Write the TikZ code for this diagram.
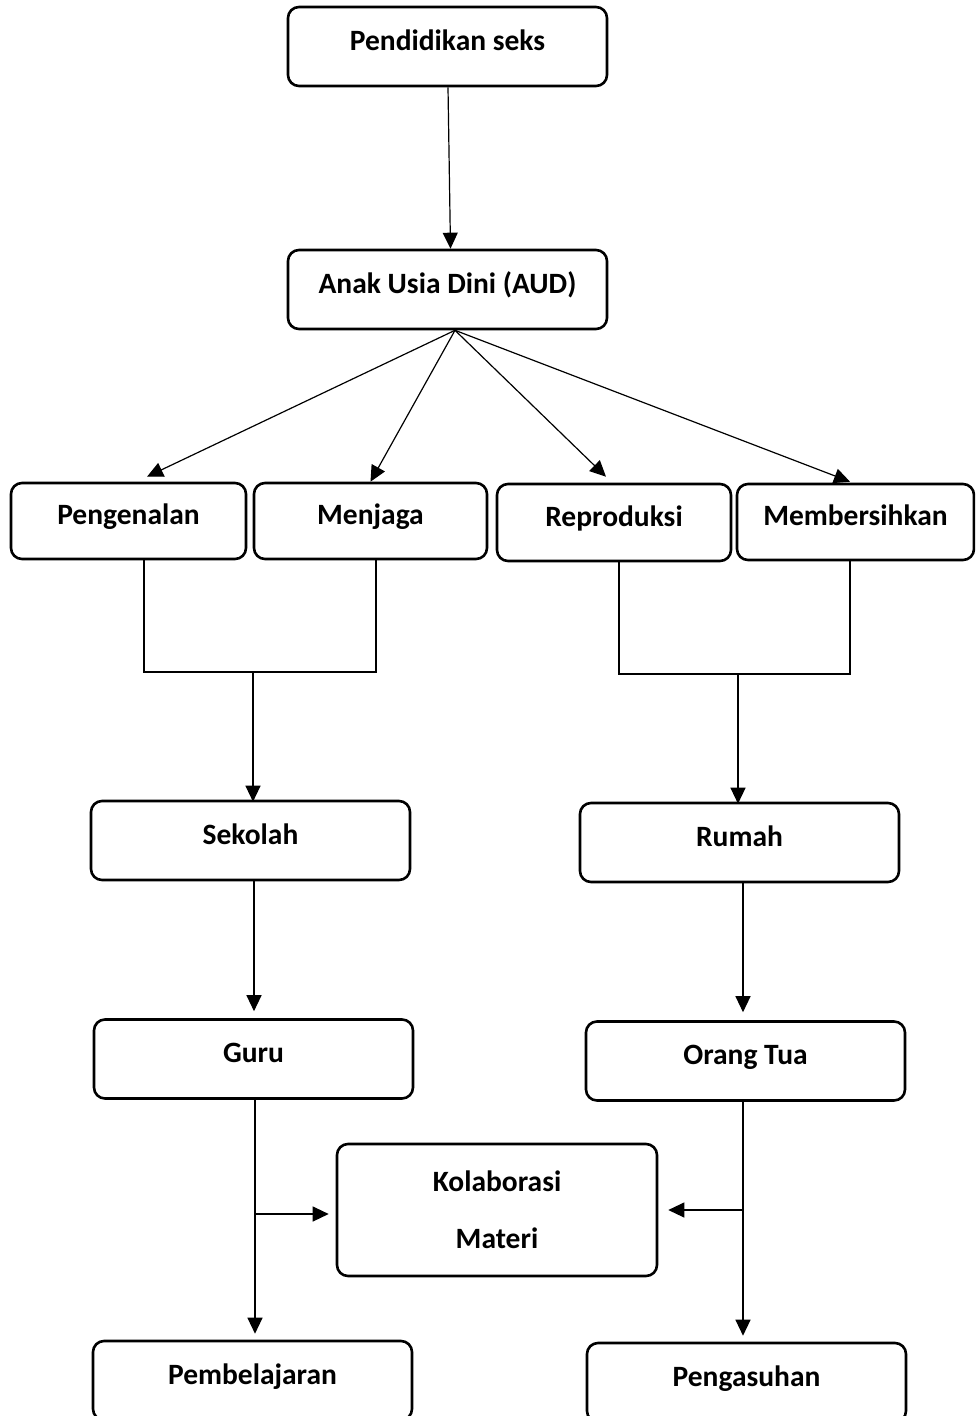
\documentclass[tikz,border=0pt]{standalone}
\usepackage{fontspec}
\setmainfont{Carlito}
\usetikzlibrary{arrows.meta,calc}
\begin{document}
\begin{tikzpicture}[x=1pt,y=-1pt,
  boxbase/.style={draw, line width=2.6pt, rounded corners=11pt, inner sep=0pt,
    font=\fontsize{29.5}{35}\selectfont\bfseries},
  box/.style={boxbase, text height=10pt, text depth=3pt},
  wide/.style={minimum width=319pt, minimum height=79pt},
  small/.style={minimum width=234pt, minimum height=76pt},
  link/.style={line width=1.2pt},
  arr/.style={link, -{Triangle[length=16pt,width=15pt]}}]
\useasboundingbox (0,0) rectangle (975,1416);
\clip (0,0) rectangle (975,1416);

% main boxes
\node[box, wide] (pend) at (447.5,46.5) {Pendidikan seks};
\node[box, wide] (aud)  at (447.5,289.5) {Anak Usia Dini (AUD)};

% four topics
\node[box, small, minimum width=235pt] (peng) at (128.5,521) {Pengenalan};
\node[box, small, minimum width=233pt] (menj) at (370.5,521) {Menjaga};
\node[box, small, minimum height=77pt] (repr) at (614,522.5) {Reproduksi};
\node[box, small, minimum width=237pt] (memb) at (855.5,522) {Membersihkan};

% settings
\node[box, wide] (sek)  at (250.5,840.5) {Sekolah};
\node[box, wide] (rum)  at (739.5,842.5) {Rumah};
\node[box, wide] (guru) at (253.5,1059) {Guru};
\node[box, wide] (ortu) at (745.5,1061) {Orang Tua};
\node[boxbase, minimum width=320pt, minimum height=132pt, align=center,
      font=\fontsize{29.5}{57}\selectfont\bfseries] (kol) at (497,1210) {Kolaborasi\\Materi};
\node[box, wide] (pemb) at (252.5,1380.5) {Pembelajaran};
\node[box, wide] (asuh) at (746.5,1382.5) {Pengasuhan};

% top arrow
\draw[arr] ($(pend.south)+(0.5,0)$) -- ($(aud.north)+(3,0)$);

% fan out of AUD
\coordinate (fan) at ($(aud.south)+(7.5,0)$);
\draw[arr] (fan) -- ($(peng.north)+(18.5,-5)$);
\draw[arr] (fan) -- ($(menj.north)+(0,0)$);
\draw[arr] (fan) -- ($(repr.north)+(-8,-6)$);
\draw[arr] (fan) -- ($(memb.north)+(-5.5,-1)$);

% left bracket to Sekolah
\coordinate (lj) at (253,672);
\draw[link] ($(peng.south)+(15.5,0)$) |- (lj) -| ($(menj.south)+(5.5,0)$);
\draw[arr] (lj) -- ($(sek.north)+(2.5,2)$);

% right bracket to Rumah
\coordinate (rj) at (738,674);
\draw[link] ($(repr.south)+(5,0)$) |- (rj) -| ($(memb.south)+(-5.5,0)$);
\draw[arr] (rj) -- ($(rum.north)+(-1.5,2)$);

% down the columns
\draw[arr] ($(sek.south)+(3.5,0)$) -- ($(guru.north)+(0.5,-7)$);
\draw[arr] ($(rum.south)+(3.5,0)$) -- ($(ortu.north)+(-2.5,-8)$);
\draw[arr] ($(guru.south)+(1.5,0)$) coordinate (gl) -- ($(pemb.north)+(2.5,-6)$);
\draw[arr] ($(ortu.south)+(-2.5,0)$) coordinate (ol) -- ($(asuh.north)+(-3.5,-6)$);

% into Kolaborasi Materi
\draw[arr] (gl |- 0,1214) -- ($(kol.west)+(-7,4)$);
\draw[arr] (ol |- 0,1210) -- ($(kol.east)+(10,0)$);
\end{tikzpicture}
\end{document}
